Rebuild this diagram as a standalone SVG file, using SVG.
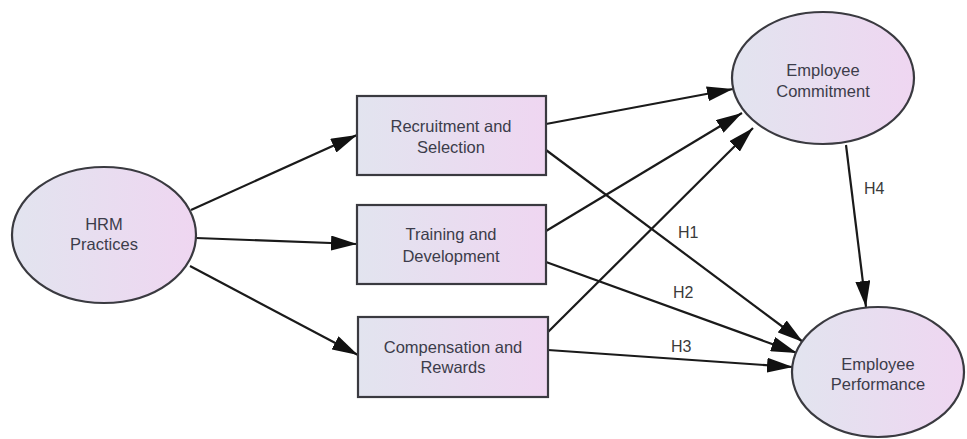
<svg xmlns="http://www.w3.org/2000/svg" width="967" height="439" viewBox="0 0 967 439">
<defs>
<linearGradient id="g" x1="0" y1="0" x2="1" y2="0">
<stop offset="0" stop-color="#e2e4ef"/>
<stop offset="1" stop-color="#efd6f1"/>
</linearGradient>
<marker id="ah" viewBox="0 0 26 15" refX="26" refY="7.5" markerWidth="26" markerHeight="15" markerUnits="userSpaceOnUse" orient="auto">
<path d="M0,0 L26,7.5 L0,15 Z" fill="#111"/>
</marker>
<style>
.n{fill:url(#g);stroke:#3a3a40;stroke-width:2.2}
.t{font-family:"Liberation Sans",Arial,sans-serif;font-size:16.5px;fill:#3c3c4a;text-anchor:middle}
.c line{stroke:#1a1a1a;stroke-width:2.2;marker-end:url(#ah)}
.l{font-family:"Liberation Sans",Arial,sans-serif;font-size:16px;fill:#3a3a3a}
</style>
</defs>
<rect width="967" height="439" fill="#fff"/>
<g class="c" id="connectors">
<line x1="191" y1="210" x2="357" y2="135"/>
<line x1="196" y1="238" x2="357" y2="244"/>
<line x1="190" y1="266" x2="358" y2="355"/>
<line x1="546" y1="124" x2="733" y2="89"/>
<line x1="546" y1="150" x2="803" y2="342"/>
<line x1="546" y1="231" x2="742" y2="113"/>
<line x1="546" y1="262" x2="797" y2="353"/>
<line x1="548" y1="332" x2="753" y2="128"/>
<line x1="548" y1="350" x2="793" y2="367"/>
<line x1="846" y1="145" x2="866" y2="307"/>
</g>
<g id="labels">
<text class="l" x="678" y="238">H1</text>
<text class="l" x="673" y="298">H2</text>
<text class="l" x="671" y="352">H3</text>
<text class="l" x="864" y="194">H4</text>
</g>
<g id="hrm">
<ellipse class="n" cx="104" cy="235" rx="92" ry="68"/>
<text class="t" x="104" y="230">HRM</text>
<text class="t" x="104" y="250">Practices</text>
</g>
<g id="recruitment">
<rect class="n" x="357" y="96" width="189" height="79"/>
<text class="t" x="451" y="132">Recruitment and</text>
<text class="t" x="451" y="153">Selection</text>
</g>
<g id="training">
<rect class="n" x="357" y="205" width="189" height="79"/>
<text class="t" x="451" y="240">Training and</text>
<text class="t" x="451" y="262">Development</text>
</g>
<g id="compensation">
<rect class="n" x="358" y="317" width="190" height="80"/>
<text class="t" x="453" y="353">Compensation and</text>
<text class="t" x="453" y="373">Rewards</text>
</g>
<g id="commitment">
<ellipse class="n" cx="823" cy="78" rx="91" ry="66"/>
<text class="t" x="823" y="76">Employee</text>
<text class="t" x="823" y="97">Commitment</text>
</g>
<g id="performance">
<ellipse class="n" cx="878" cy="372" rx="86" ry="65"/>
<text class="t" x="878" y="370">Employee</text>
<text class="t" x="878" y="390">Performance</text>
</g>
</svg>
